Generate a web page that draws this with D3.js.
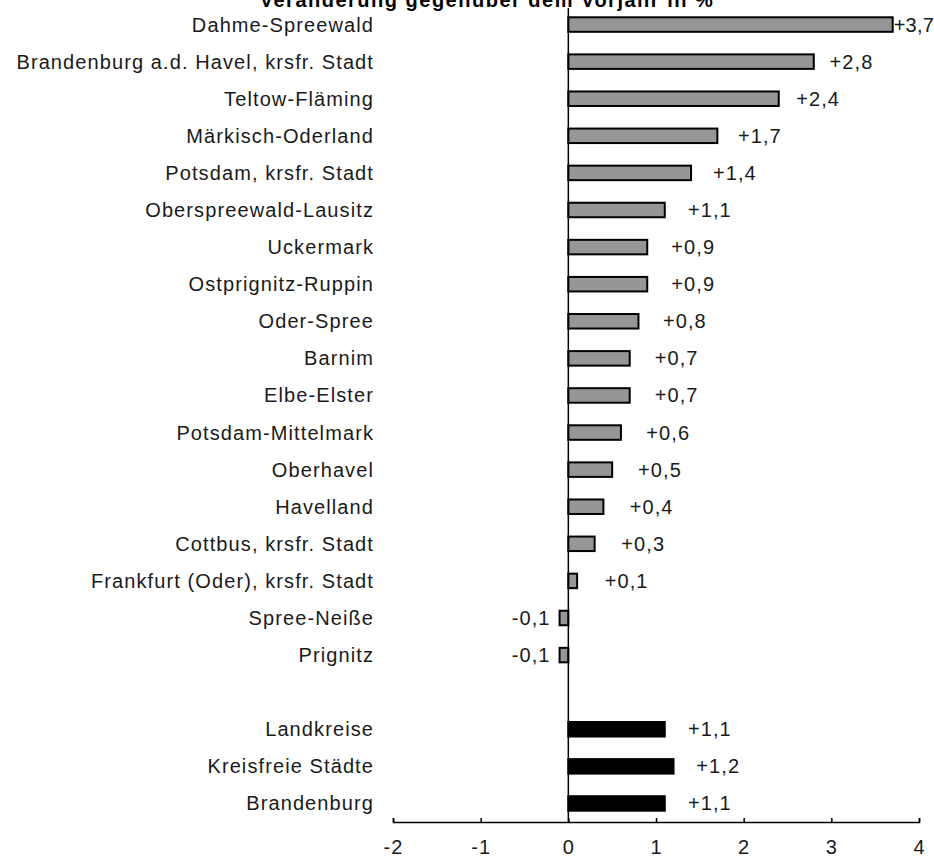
<!DOCTYPE html>
<html>
<head>
<meta charset="utf-8">
<script src="https://cdn.jsdelivr.net/npm/d3@7"></script>
<style>
  html, body { margin: 0; padding: 0; background: #fff; }
  svg { display: block; font-family: "Liberation Sans", Arial, sans-serif; }
</style>
</head>
<body>
<div id="chart"></div>
<script>
/* Veränderung gegenüber dem Vorjahr in % — horizontal bars */

const TITLE = "Veränderung gegenüber dem Vorjahr in %";

const CATEGORIES = [
  "Dahme-Spreewald",
  "Brandenburg a.d. Havel, krsfr. Stadt",
  "Teltow-Fläming",
  "Märkisch-Oderland",
  "Potsdam, krsfr. Stadt",
  "Oberspreewald-Lausitz",
  "Uckermark",
  "Ostprignitz-Ruppin",
  "Oder-Spree",
  "Barnim",
  "Elbe-Elster",
  "Potsdam-Mittelmark",
  "Oberhavel",
  "Havelland",
  "Cottbus, krsfr. Stadt",
  "Frankfurt (Oder), krsfr. Stadt",
  "Spree-Neiße",
  "Prignitz",
  "",
  "Landkreise",
  "Kreisfreie Städte",
  "Brandenburg"
];

const VALUES = [3.7, 2.8, 2.4, 1.7, 1.4, 1.1, 0.9, 0.9, 0.8, 0.7, 0.7, 0.6,
                0.5, 0.4, 0.3, 0.1, -0.1, -0.1, null, 1.1, 1.2, 1.1];

// "k" = Kreis, "t" = Total
const KIND = ["k","k","k","k","k","k","k","k","k","k","k","k",
              "k","k","k","k","k","k","", "t","t","t"];

const X_TICKS = [-2, -1, 0, 1, 2, 3, 4];

const W = 934, H = 858;
const M = {top: 6, right: 15, bottom: 36, left: 393};

const svg = d3.select("#chart").append("svg").attr("width", W).attr("height", H);

const x = d3.scaleLinear().domain([-2, 4]).range([M.left, W - M.right]);
const y = d3.scaleBand().domain(d3.range(CATEGORIES.length))
  .range([M.top, H - M.bottom]).padding(0);

const BAR_H = 14.5;
const FILL = {k: "#969696", t: "#000"};
const TXT = "#1a1a1a";
const FS = "20px", LS = "1.1px";
const fmt = v => (v > 0 ? "+" : "-") + d3.format(".1f")(Math.abs(v)).replace(".", ",");

/* title (partly cut at the top, as in the original) */
svg.append("text")
  .attr("x", 487).attr("y", 7)
  .attr("text-anchor", "middle")
  .style("font-size", "20px").style("font-weight", "bold")
  .style("letter-spacing", "1.5px")
  .attr("fill", "#000")
  .text(TITLE);

const rows = CATEGORIES.map((c, i) => ({i, cat: c, v: VALUES[i], kind: KIND[i]}));

/* category labels */
svg.append("g").selectAll("text").data(rows.filter(d => d.cat)).join("text")
  .attr("x", 374)
  .attr("y", d => y(d.i) + y.bandwidth() / 2)
  .attr("dy", "0.35em")
  .attr("text-anchor", "end")
  .style("font-size", FS).style("letter-spacing", LS)
  .attr("fill", TXT)
  .text(d => d.cat);

/* bars */
const data = rows.filter(d => d.v !== null);
svg.append("g").selectAll("rect").data(data).join("rect")
  .attr("x", d => x(Math.min(0, d.v)))
  .attr("width", d => Math.abs(x(d.v) - x(0)))
  .attr("y", d => y(d.i) + (y.bandwidth() - BAR_H) / 2)
  .attr("height", BAR_H)
  .attr("fill", d => FILL[d.kind])
  .attr("stroke", "#000").attr("stroke-width", 2);

/* value labels; the one at the right edge is pushed against its bar */
svg.append("g").selectAll("text").data(data).join("text")
  .attr("y", d => y(d.i) + y.bandwidth() / 2)
  .attr("dy", "0.35em")
  .attr("text-anchor", d => d.v < 0 ? "end" : "start")
  .style("font-size", FS).style("letter-spacing", LS)
  .attr("fill", TXT)
  .text(d => fmt(d.v))
  .each(function(d) {
    const t = d3.select(this);
    if (d.v < 0) { t.attr("x", x(d.v) - 9); return; }
    const pos = x(0) + 28 + (x(d.v) - x(0)) * 0.95;
    if (pos + this.getComputedTextLength() > W - 2) {
      t.style("letter-spacing", "0.2px").attr("x", x(d.v) + 1);
    } else {
      t.attr("x", pos);
    }
  });

/* zero line */
svg.append("line")
  .attr("x1", x(0)).attr("x2", x(0))
  .attr("y1", 8).attr("y2", H - M.bottom)
  .attr("stroke", "#000").attr("stroke-width", 1.5);

/* x axis, ticks pointing up */
const axis = svg.append("g")
  .attr("transform", `translate(0,${H - M.bottom})`)
  .call(d3.axisBottom(x).tickValues(X_TICKS).tickSize(-4).tickPadding(18)
    .tickFormat(d => d < 0 ? "-" + Math.abs(d) : String(d)));
axis.select(".domain").attr("stroke", "#000").attr("stroke-width", 1.5);
axis.selectAll(".tick line").attr("stroke", "#000").attr("stroke-width", 1.5);
axis.selectAll(".tick text")
  .attr("fill", TXT)
  .style("font-size", FS).style("letter-spacing", LS)
  .style("font-family", "\"Liberation Sans\", Arial, sans-serif");
</script>
</body>
</html>
